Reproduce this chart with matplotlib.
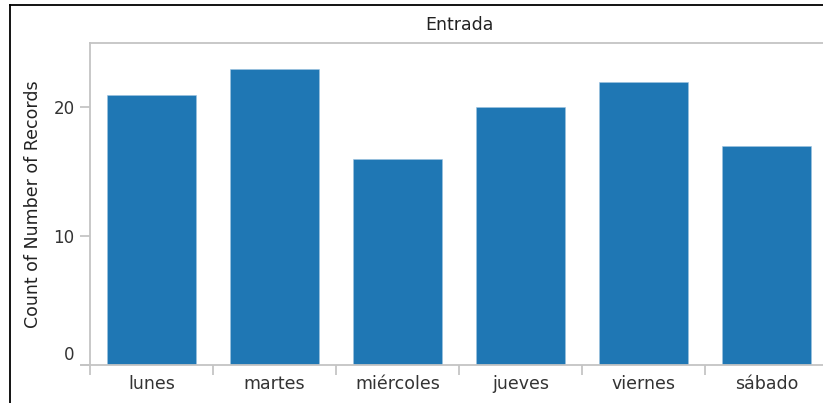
import matplotlib.pyplot as plt
from matplotlib.lines import Line2D
import matplotlib.transforms as mtransforms
import numpy as np

days = ['lunes', 'martes', 'miércoles', 'jueves', 'viernes', 'sábado']
counts = [21, 23, 16, 20, 22, 17]

fig = plt.figure(figsize=(8.23, 4.03), dpi=100)
ax = fig.add_axes([90 / 823, 38 / 403, 738 / 823, 322 / 403])

x = np.arange(len(days))
ax.bar(x, counts, width=0.73, color='#1f77b4', edgecolor='#9ec3e0', linewidth=0.4)

ax.set_xlim(-0.5, len(days) - 0.5)
ax.set_ylim(0, 25)
ax.set_yticks([0, 10, 20])
ax.set_xticks(x)
ax.set_xticklabels(days)
ax.set_xticks(np.arange(-0.5, len(days), 1.0), minor=True)
ax.tick_params(axis='x', which='major', length=0, pad=7, labelsize=12.5, labelcolor='#333333')
ax.tick_params(axis='x', which='minor', length=7, width=1.2, color='#c0c0c0')
ax.tick_params(axis='y', length=7, width=1.2, color='#c0c0c0', labelsize=12,
               labelcolor='#333333', pad=4)

# the zero label sits a little above its tick
fig.canvas.draw()
zero = ax.get_yticklabels()[0]
zero.set_transform(zero.get_transform() +
                   mtransforms.ScaledTranslation(0, 12 / 100, fig.dpi_scale_trans))

for s in ['left', 'top', 'bottom', 'right']:
    ax.spines[s].set_color('#c4c4c4')
    ax.spines[s].set_linewidth(1.3)

# x axis line runs a bit past the y axis
ax.add_line(Line2D([-0.012, 0], [0, 0], transform=ax.transAxes, color='#c4c4c4',
                   lw=1.3, clip_on=False))

ax.set_ylabel('Count of Number of Records', fontsize=12.5, color='#222222', labelpad=8)
ax.set_title('Entrada', fontsize=12.5, color='#222222', pad=9)

# black frame around the view
fig.add_artist(Line2D([10 / 823, 10 / 823], [0, 1 - 5 / 403], transform=fig.transFigure,
                      color='black', lw=1.3))
fig.add_artist(Line2D([10 / 823, 1], [1 - 5 / 403, 1 - 5 / 403], transform=fig.transFigure,
                      color='black', lw=1.3))

fig.savefig('out.png', dpi=100)
